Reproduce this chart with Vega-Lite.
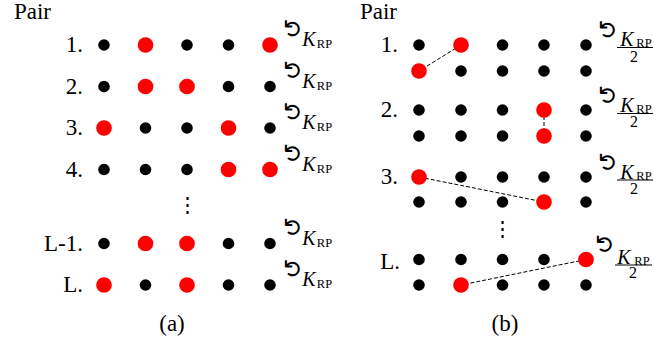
{
  "$schema": "https://vega.github.io/schema/vega-lite/v6.json",
  "width": 654,
  "height": 347,
  "autosize": "none",
  "padding": 0,
  "background": "white",
  "config": {"view": {"stroke": null}},
  "datasets": {
    "dots": [
      {"x": 104, "y": 45, "c": "black"}, {"x": 145.5, "y": 45, "c": "red"}, {"x": 187, "y": 45, "c": "black"}, {"x": 228.5, "y": 45, "c": "black"}, {"x": 270, "y": 45, "c": "red"},
      {"x": 104, "y": 86.5, "c": "black"}, {"x": 145.5, "y": 86.5, "c": "red"}, {"x": 187, "y": 86.5, "c": "red"}, {"x": 228.5, "y": 86.5, "c": "black"}, {"x": 270, "y": 86.5, "c": "black"},
      {"x": 104, "y": 128, "c": "red"}, {"x": 145.5, "y": 128, "c": "black"}, {"x": 187, "y": 128, "c": "black"}, {"x": 228.5, "y": 128, "c": "red"}, {"x": 270, "y": 128, "c": "black"},
      {"x": 104, "y": 169.5, "c": "black"}, {"x": 145.5, "y": 169.5, "c": "black"}, {"x": 187, "y": 169.5, "c": "black"}, {"x": 228.5, "y": 169.5, "c": "red"}, {"x": 270, "y": 169.5, "c": "red"},
      {"x": 104, "y": 243.5, "c": "black"}, {"x": 145.5, "y": 243.5, "c": "red"}, {"x": 187, "y": 243.5, "c": "red"}, {"x": 228.5, "y": 243.5, "c": "black"}, {"x": 270, "y": 243.5, "c": "black"},
      {"x": 104, "y": 285, "c": "red"}, {"x": 145.5, "y": 285, "c": "black"}, {"x": 187, "y": 285, "c": "red"}, {"x": 228.5, "y": 285, "c": "black"}, {"x": 270, "y": 285, "c": "black"},
      {"x": 419, "y": 45, "c": "black"}, {"x": 461, "y": 45, "c": "red"}, {"x": 502.5, "y": 45, "c": "black"}, {"x": 544, "y": 45, "c": "black"}, {"x": 586, "y": 45, "c": "black"},
      {"x": 419, "y": 71, "c": "red"}, {"x": 461, "y": 71, "c": "black"}, {"x": 502.5, "y": 71, "c": "black"}, {"x": 544, "y": 71, "c": "black"}, {"x": 586, "y": 71, "c": "black"},
      {"x": 419, "y": 110, "c": "black"}, {"x": 461, "y": 110, "c": "black"}, {"x": 502.5, "y": 110, "c": "black"}, {"x": 544, "y": 110, "c": "red"}, {"x": 586, "y": 110, "c": "black"},
      {"x": 419, "y": 136, "c": "black"}, {"x": 461, "y": 136, "c": "black"}, {"x": 502.5, "y": 136, "c": "black"}, {"x": 544, "y": 136, "c": "red"}, {"x": 586, "y": 136, "c": "black"},
      {"x": 419, "y": 177, "c": "red"}, {"x": 461, "y": 177, "c": "black"}, {"x": 502.5, "y": 177, "c": "black"}, {"x": 544, "y": 177, "c": "black"}, {"x": 586, "y": 177, "c": "black"},
      {"x": 419, "y": 202, "c": "black"}, {"x": 461, "y": 202, "c": "black"}, {"x": 502.5, "y": 202, "c": "black"}, {"x": 544, "y": 202, "c": "red"}, {"x": 586, "y": 202, "c": "black"},
      {"x": 419, "y": 259.5, "c": "black"}, {"x": 461, "y": 259.5, "c": "black"}, {"x": 502.5, "y": 259.5, "c": "black"}, {"x": 544, "y": 259.5, "c": "black"}, {"x": 586, "y": 259.5, "c": "red"},
      {"x": 419, "y": 285, "c": "black"}, {"x": 461, "y": 285, "c": "red"}, {"x": 502.5, "y": 285, "c": "black"}, {"x": 544, "y": 285, "c": "black"}, {"x": 586, "y": 285, "c": "black"}
    ],
    "links": [
      {"x": 461, "y": 45, "x2": 419, "y2": 71},
      {"x": 544, "y": 110, "x2": 544, "y2": 136},
      {"x": 419, "y": 177, "x2": 544, "y2": 202},
      {"x": 586, "y": 259.5, "x2": 461, "y2": 285}
    ],
    "rowlabels": [
      {"x": 83, "y": 45, "t": "1."}, {"x": 83, "y": 86.5, "t": "2."}, {"x": 83, "y": 128, "t": "3."}, {"x": 83, "y": 169.5, "t": "4."},
      {"x": 83, "y": 243.5, "t": "L-1."}, {"x": 83, "y": 285, "t": "L."},
      {"x": 398, "y": 45, "t": "1."}, {"x": 398, "y": 110, "t": "2."}, {"x": 398, "y": 177, "t": "3."}, {"x": 400, "y": 262, "t": "L."}
    ],
    "titles": [
      {"x": 32.5, "y": 12, "t": "Pair"}, {"x": 378.5, "y": 12, "t": "Pair"},
      {"x": 172, "y": 324, "t": "(a)"}, {"x": 505, "y": 324, "t": "(b)"}
    ],
    "ellipsis": [
      {"x": 187, "y": 206, "t": "⋮"}, {"x": 502.5, "y": 230, "t": "⋮"}
    ],
    "syms": [
      {"x": 293.5, "y": 28.5}, {"x": 293.5, "y": 70}, {"x": 293.5, "y": 111.5}, {"x": 293.5, "y": 153}, {"x": 293.5, "y": 227}, {"x": 293.5, "y": 268.5},
      {"x": 608.5, "y": 29.5}, {"x": 608.5, "y": 95}, {"x": 608.5, "y": 162}, {"x": 606, "y": 244}
    ],
    "ks": [
      {"x": 309, "y": 40}, {"x": 309, "y": 81.5}, {"x": 309, "y": 123}, {"x": 309, "y": 164.5}, {"x": 309, "y": 238.5}, {"x": 309, "y": 280},
      {"x": 627, "y": 40}, {"x": 627, "y": 106}, {"x": 627, "y": 173}, {"x": 624, "y": 258}
    ],
    "rps": [
      {"x": 324.5, "y": 44}, {"x": 324.5, "y": 85.5}, {"x": 324.5, "y": 127}, {"x": 324.5, "y": 168.5}, {"x": 324.5, "y": 242.5}, {"x": 324.5, "y": 284},
      {"x": 644, "y": 43}, {"x": 644, "y": 109}, {"x": 644, "y": 176}, {"x": 642, "y": 261}
    ],
    "fracs": [
      {"x": 617, "x2": 653, "y": 47.5}, {"x": 617, "x2": 653, "y": 113.5}, {"x": 617, "x2": 653, "y": 180}, {"x": 615, "x2": 652, "y": 265}
    ],
    "twos": [
      {"x": 634, "y": 56.5}, {"x": 634, "y": 122}, {"x": 634, "y": 189}, {"x": 633, "y": 273}
    ]
  },
  "encoding": {
    "x": {"field": "x", "type": "quantitative", "scale": {"domain": [0, 654], "nice": false, "zero": false}, "axis": null},
    "y": {"field": "y", "type": "quantitative", "scale": {"domain": [0, 347], "nice": false, "zero": false, "reverse": true}, "axis": null}
  },
  "layer": [
    {
      "data": {"name": "links"},
      "mark": {"type": "rule", "color": "black", "strokeWidth": 1, "strokeDash": [4, 2]},
      "encoding": {"x2": {"field": "x2"}, "y2": {"field": "y2"}}
    },
    {
      "data": {"name": "fracs"},
      "mark": {"type": "rule", "color": "black", "strokeWidth": 1},
      "encoding": {"x2": {"field": "x2"}}
    },
    {
      "data": {"name": "dots"},
      "mark": {"type": "circle", "opacity": 1},
      "encoding": {
        "color": {"field": "c", "type": "nominal", "scale": {"domain": ["black", "red"], "range": ["#000000", "#ff0000"]}, "legend": null},
        "size": {"field": "c", "type": "nominal", "scale": {"domain": ["black", "red"], "range": [135, 245]}, "legend": null}
      }
    },
    {
      "data": {"name": "rowlabels"},
      "mark": {"type": "text", "align": "right", "baseline": "middle", "font": "Liberation Serif", "fontSize": 23, "color": "black"},
      "encoding": {"text": {"field": "t"}}
    },
    {
      "data": {"name": "titles"},
      "mark": {"type": "text", "align": "center", "baseline": "middle", "font": "Liberation Serif", "fontSize": 23, "color": "black"},
      "encoding": {"text": {"field": "t"}}
    },
    {
      "data": {"name": "ellipsis"},
      "mark": {"type": "text", "align": "center", "baseline": "middle", "font": "DejaVu Serif", "fontSize": 21, "color": "black"},
      "encoding": {"text": {"field": "t"}}
    },
    {
      "data": {"name": "syms"},
      "mark": {"type": "text", "align": "center", "baseline": "middle", "font": "DejaVu Sans", "fontSize": 24, "angle": -90, "color": "black", "text": "↺"},
      "encoding": {}
    },
    {
      "data": {"name": "ks"},
      "mark": {"type": "text", "align": "center", "baseline": "middle", "font": "Liberation Serif", "fontStyle": "italic", "fontSize": 20, "color": "black", "text": "K"},
      "encoding": {}
    },
    {
      "data": {"name": "rps"},
      "mark": {"type": "text", "align": "center", "baseline": "middle", "font": "Liberation Serif", "fontSize": 12.5, "color": "black", "text": "RP"},
      "encoding": {}
    },
    {
      "data": {"name": "twos"},
      "mark": {"type": "text", "align": "center", "baseline": "middle", "font": "Liberation Serif", "fontSize": 16, "color": "black", "text": "2"},
      "encoding": {}
    }
  ]
}
